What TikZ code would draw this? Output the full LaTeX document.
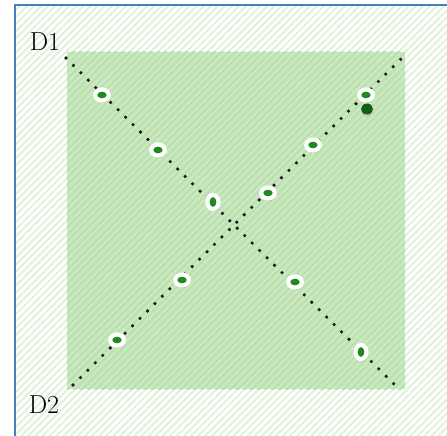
\documentclass[tikz,border=0pt]{standalone}
\usepackage{xcolor}
\usepackage{tikz}
\usetikzlibrary{patterns.meta, shadows, shapes.geometric}

\definecolor{plotfill}{HTML}{CAE9C0}
\definecolor{plotline}{HTML}{BBE0AF}
\definecolor{fieldline}{HTML}{E0F2DB}
\definecolor{frameblue}{HTML}{4A7EBB}
\definecolor{sampgreen}{HTML}{1F8A1F}
\definecolor{darkgreen}{HTML}{166016}

\begin{document}
\begin{tikzpicture}[
            x=1pt, y=-1pt,
            field/.style    ={pattern={Lines[angle=45, distance=5pt, line width=2pt]},
                              pattern color=fieldline},
            plot/.style     ={pattern={Lines[angle=45, distance=5pt, line width=2pt]},
                              pattern color=plotline},
            frame/.style    ={draw=frameblue, line width=1.6pt},
            diag/.style     ={black!90, line width=3.6pt, line cap=round,
                              dash pattern=on 0pt off 10.5pt},
            sample/.style   ={ellipse, fill=sampgreen, draw=white, line width=4.2pt,
                              inner sep=0pt, minimum width=13.5pt, minimum height=11pt,
                              drop shadow={shadow xshift=1.2pt, shadow yshift=-2.5pt,
                                           opacity=0.3}},
            tall/.style     ={minimum width=11pt, minimum height=14pt},
            solid/.style    ={ellipse, fill=darkgreen, inner sep=0pt,
                              minimum width=12pt, minimum height=11pt,
                              drop shadow={shadow xshift=0pt, shadow yshift=-2pt,
                                           opacity=0.2}},
            label/.style    ={font=\fontsize{26}{28}\selectfont, text=black}
        ]
        \useasboundingbox (0,0) rectangle (447,436);

        % background and plot area
        \fill[white] (0,0) rectangle (447,436);
        \path[field] (15,5) rectangle (447,436);
        \coordinate (sqnw) at (67,52);
        \coordinate (sqse) at (405,389);
        \fill[plotfill] (sqnw) rectangle (sqse);
        \path[plot] (sqnw) rectangle (sqse);
        \draw[frame] (15,436) -- (15,5) -- (447,5);

        % diagonals
        \coordinate (d1start) at (66,58);
        \coordinate (d1end)   at (395,385);
        \coordinate (d2start) at (73,385);
        \coordinate (d2end)   at (403,57);
        \draw[diag] (d1start) -- (d1end);
        \draw[diag] (d2start) -- (d2end);

        % samples along D1
        \node[sample]       (a1) at (102,95)  {};
        \node[sample]       (a2) at (158,150) {};
        \node[sample, tall] (a3) at (213,202) {};
        \node[sample]       (a4) at (295,282) {};
        \node[sample, tall] (a5) at (361,352) {};

        % samples along D2
        \node[sample]       (b1) at (117,340) {};
        \node[sample]       (b2) at (182,280) {};
        \node[sample]       (b3) at (268,193) {};
        \node[sample]       (b4) at (313,145) {};
        \node[solid]        (b6) at (367,109) {};
        \node[sample]       (b5) at (366,95)  {};

        \node[label] (lab1) at (45,42)  {D1};
        \node[label] (lab2) at (44,405) {D2};
        \end{tikzpicture}
\end{document}
